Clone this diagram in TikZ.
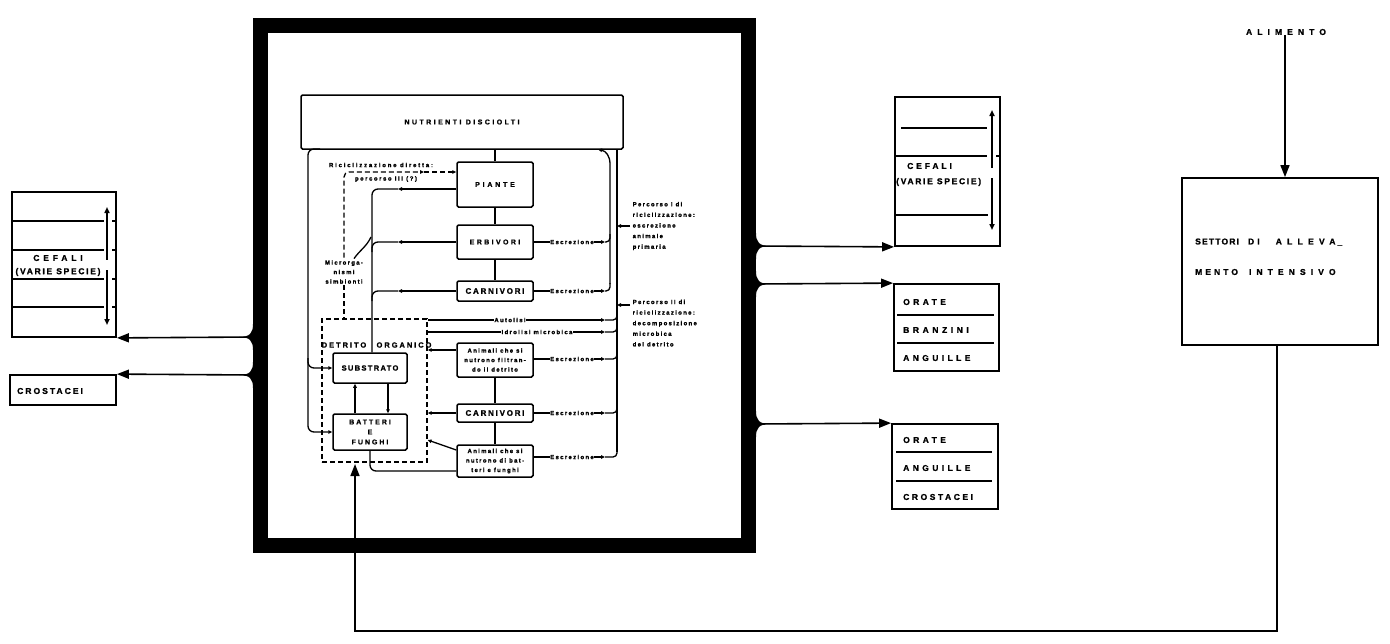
\documentclass[tikz,border=0pt]{standalone}
\usepackage{fontspec}
\setmainfont{Liberation Sans}[BoldFeatures={FakeBold=1.2}]
\usetikzlibrary{arrows.meta,calc}
\newcommand\LS[2]{{\addfontfeature{LetterSpace=#1}#2}}
\newcommand\bulgeL[1]{\fill[shift={(#1)}] (2,-13) -- (0,-13) .. controls (0,-4) and (-3,0) .. (-14,0) .. controls (-3,0) and (0,4) .. (0,13) -- (2,13) -- cycle;}
\newcommand\bulgeR[1]{\fill[shift={(#1)}] (-2,-13) -- (0,-13) .. controls (0,-4) and (3,0) .. (14,0) .. controls (3,0) and (0,4) .. (0,13) -- (-2,13) -- cycle;}
\begin{document}
\begin{tikzpicture}[x=1pt,y=-1pt,
  outl/.style={line width=1.6pt},
  inl/.style={line width=1.3pt},
  obox/.style={draw, line width=1.8pt, inner sep=0pt},
  ibox/.style={draw, line width=1.5pt, inner sep=0pt, rounded corners=1.5pt},
  big/.style={font=\fontsize{8.5}{10}\selectfont\bfseries, inner sep=0pt},
  mid/.style={font=\fontsize{7}{10}\selectfont\bfseries, inner sep=0pt},
  midb/.style={font=\fontsize{8}{10}\selectfont\bfseries, inner sep=0pt},
  tiny/.style={font=\fontsize{6}{9.5}\selectfont\bfseries\addfontfeature{LetterSpace=22}, inner sep=0.5pt, align=center},
  tinyl/.style={font=\fontsize{6}{10.6}\selectfont\bfseries\addfontfeature{LetterSpace=22}, inner sep=0.5pt, align=left},
  dsh/.style={dash pattern=on 5pt off 3pt},
  OA/.style={-{Triangle[length=12pt,width=9pt]}},
  SA/.style={-{Triangle[length=6pt,width=5pt]}},
  IA/.style={-{Triangle[length=4pt,width=3.5pt]}},
  ]
\useasboundingbox (0,0) rectangle (1390,643);

% ---------- big frame ----------
\node[draw, line width=15pt, minimum width=488pt, minimum height=519.5pt, inner sep=0pt] (frame) at (504.5,285.25) {};
\coordinate (jL1) at (253,337);
\coordinate (jL2) at (253,375);
\coordinate (jR1) at (756,246);
\coordinate (jR2) at (756,284);
\coordinate (jR3) at (756,424);
\bulgeL{jL1}\bulgeL{jL2}\bulgeR{jR1}\bulgeR{jR2}\bulgeR{jR3}

% ---------- left boxes ----------
\node[obox, minimum width=104pt, minimum height=145pt] (cefL) at (64,264.5) {};
\draw[outl] (12,221) -- (104,221) (12,250) -- (104,250) (12,279) -- (104,279) (12,307) -- (104,307);
\draw[outl] (112,221) -- (116,221) (112,250) -- (116,250) (112,279) -- (116,279) (112,307) -- (116,307);
\draw[outl, {Triangle[length=6pt,width=5pt]}-] (107,207) -- (107,260);
\draw[outl, SA] (107,270) -- (107,325);
\node[big] (tcefL) at (58,258) {\LS{45}{CEFALI}};
\node[big] (tvarL) at (58,272) {\LS{20}{(VARIE SPECIE)}};

\node[obox, minimum width=106pt, minimum height=30pt] (crost) at (63,390) {};
\node[big, anchor=west] (tcros) at (17,391) {\LS{24}{CROSTACEI}};

\draw[outl, OA] (jL1) -- (cefL.south east);
\draw[outl, OA] (jL2) -- (crost.north east);

% ---------- right boxes ----------
\node[obox, minimum width=105pt, minimum height=149pt] (cefR) at (947.5,171.5) {};
\draw[outl] (901,128) -- (987,128) (895,156) -- (987,156) (895,215) -- (988,215) (996,156) -- (1000,156);
\draw[outl, {Triangle[length=6pt,width=5pt]}-] (992,110) -- (992,168);
\draw[outl, SA] (992,178) -- (992,230);
\node[big, anchor=west] (tcefR) at (907,166) {\LS{34}{CEFALI}};
\node[big, anchor=west] (tvarR) at (896,182) {\LS{20}{(VARIE SPECIE)}};

\node[obox, minimum width=105pt, minimum height=87pt] (obr) at (946.5,327.5) {};
\draw[outl] (897,315) -- (994,315) (897,343) -- (994,343);
\node[big, anchor=west] (t1) at (903,302) {\LS{40}{ORATE}};
\node[big, anchor=west] (t2) at (903,330) {\LS{42}{BRANZINI}};
\node[big, anchor=west] (t3) at (903,358) {\LS{40}{ANGUILLE}};

\node[obox, minimum width=106pt, minimum height=85pt] (oac) at (945,466.5) {};
\draw[outl] (896,452) -- (992,452) (896,481) -- (992,481);
\node[big, anchor=west] (t4) at (903,440) {\LS{40}{ORATE}};
\node[big, anchor=west] (t5) at (903,468) {\LS{40}{ANGUILLE}};
\node[big, anchor=west] (t6) at (903,497) {\LS{30}{CROSTACEI}};

\draw[outl, OA] (jR1) -- (cefR.south west);
\draw[outl, OA] (jR2) -- (obr.north west);
\draw[outl, OA] (jR3) -- (oac.north west);

% ---------- far right ----------
\node[big] (alim) at (1286,32) {\LS{60}{ALIMENTO}};
\node[obox, minimum width=196pt, minimum height=167pt] (sett) at (1280,261.5) {};
\node[big, anchor=west] (s1) at (1195,242) {\LS{14}{SETTORI}\hspace{9pt}\LS{38}{DI}\hspace{16pt}\LS{62}{ALLEVA}\hspace{2pt}\_};
\node[big, anchor=west] (s2) at (1195,272) {\LS{36}{MENTO}\hspace{11pt}\LS{60}{INTENSIVO}};
\draw[outl, OA] (alim.south -| 1285,0) -- (sett.north -| 1285,0);
\coordinate (r0) at (1277,345);
\coordinate (r1) at (1277,631);
\coordinate (r2) at (355,631);
\coordinate (dtip) at (355,464);
\draw[outl, OA] (r0) -- (r1) -- (r2) -- (dtip);

% ---------- inner diagram ----------
\node[ibox, mid, minimum width=322pt, minimum height=54pt] (nut) at (462,122) {\LS{35}{NUTRIENTI DISCIOLTI}};
\node[ibox, mid, minimum width=76pt, minimum height=45pt] (pi) at (495,184.5) {\LS{40}{PIANTE}};
\node[ibox, mid, minimum width=76pt, minimum height=34pt] (er) at (495,242) {\LS{34}{ERBIVORI}};
\node[ibox, midb, minimum width=76pt, minimum height=20pt] (ca1) at (495,291) {\LS{22}{CARNIVORI}};
\node[ibox, tiny, minimum width=76pt, minimum height=34pt] (af) at (495,360) {Animali che si\\nutrono filtran-\\do il detrito};
\node[ibox, midb, minimum width=76pt, minimum height=18pt] (ca2) at (495,413) {\LS{22}{CARNIVORI}};
\node[ibox, tiny, minimum width=76pt, minimum height=32pt] (ab) at (495,461) {Animali che si\\nutrono di bat-\\teri e funghi};
\node[draw, inl, dsh, minimum width=105pt, minimum height=143pt, inner sep=0pt] (dbox) at (374.5,390.5) {};
\node[ibox, font=\fontsize{7.5}{10}\selectfont\bfseries, minimum width=74pt, minimum height=30pt] (sub) at (370,368) {\LS{18}{SUBSTRATO}};
\node[ibox, mid, align=center, minimum width=74pt, minimum height=36pt] (bat) at (370,432) {\LS{28}{BATTERI}\\\LS{28}{E}\\\LS{28}{FUNGHI}};
\node[font=\fontsize{7.5}{10}\selectfont\bfseries, inner sep=0pt] (det) at (344,345) {\LS{26}{DETRITO}};
\node[font=\fontsize{7.5}{10}\selectfont\bfseries, inner sep=0pt] (org) at (404,345) {\LS{26}{ORGANICO}};

% column links
\draw[inl] (pi.north) -- (pi.north |- nut.south);
\draw[inl] (pi.south) -- (er.north);
\draw[inl] (er.south) -- (ca1.north);
\draw[inl] (af.south) -- (ca2.north);
\draw[inl] (ca2.south) -- (ab.north);

% left feed line into substrato
\coordinate (fx) at (372,0);
\coordinate (ax) at (398,0);
\coordinate (pl) at ([yshift=-4.5pt]pi.west);
\draw[inl, IA] (pl) -- (pl -| ax);
\draw[inl, rounded corners=6pt] (pl -| ax) -- (pl -| fx) -- (sub.north -| fx);
\draw[inl, IA] (er.west) -- (er.west -| ax);
\draw[inl, rounded corners=6pt] (er.west -| ax) -| ++(-26,10);
\draw[inl, IA] (ca1.west) -- (ca1.west -| ax);
\draw[inl, rounded corners=6pt] (ca1.west -| ax) -| ++(-26,10);

% microrganismi simbionti
\node[tiny] (mic) at (344,272) {Microrga-\\nismi\\simbionti};
\coordinate (mj) at (371,237);
\draw[inl] ([xshift=10pt,yshift=1pt]mic.north) to[out=55,in=-115] (mj);

% dashed direct recycling
\coordinate (dk) at (344,172);
\coordinate (dm) at (424,172);
\draw[inl, dsh, rounded corners=5pt, IA] ([yshift=2pt]mic.north) -- (dk) -- (dm);
\draw[inl, dsh, IA] (dm) -- (dm -| pi.west);
\draw[inl, dsh] ([yshift=-1pt]mic.south) -- (mic.south |- dbox.north);
\node[font=\fontsize{6}{8}\selectfont\bfseries\addfontfeature{LetterSpace=30}, inner sep=0pt] (ric) at (381,165) {Riciclizzazione diretta:};
\node[font=\fontsize{6}{8}\selectfont\bfseries\addfontfeature{LetterSpace=26}, inner sep=0pt] (p3) at (386,179) {percorso III (?)};

% left main line
\coordinate (lt) at (320,149);
\coordinate (lx) at (308,0);
\draw[inl, rounded corners=6pt, IA] (lt) -- (lt -| lx) -- (bat.west -| lx) -- (bat.west);
\coordinate (sl) at ([yshift=10pt]sub.west -| lx);
\draw[inl, rounded corners=6pt, IA] (sl) |- (sub.west);

% substrato / batteri
\draw[inl, IA] ([xshift=-15pt]bat.north) -- ([xshift=-15pt]sub.south);
\draw[inl, IA] ([xshift=18pt]sub.south) -- ([xshift=18pt]bat.north);

% detritus inputs
\coordinate (afl) at ([yshift=10pt]af.west);
\draw[inl, IA] (afl) -- (afl -| dbox.east);
\draw[inl, IA] (ca2.west) -- (ca2.west -| dbox.east);
\coordinate (abl) at ([yshift=11pt]ab.west);
\coordinate (abt) at ([yshift=-49.5pt]dbox.east);
\draw[inl, IA] (abl) -- (abt);
\coordinate (abb) at ([yshift=-10pt]ab.west);
\draw[inl, rounded corners=6pt] (bat.south) |- (abb);

% right recycling lines
\coordinate (ix) at (610,0);
\coordinate (ox) at (617,0);
\coordinate (ea) at (605,0);
\coordinate (ib) at (610,284);
\coordinate (ic) at (610,164);
\coordinate (itop) at (598,149.5);
\draw[inl, IA] (ib) -- (ic) .. controls (610,156) and (606,151) .. (itop);
\coordinate (ob) at (617,452);
\draw[inl] (nut.south -| ox) -- (ob);

% excretions
\node[tiny] (ex1) at (572,242) {Escrezione};
\node[tiny] (ex2) at (572,291) {Escrezione};
\node[tiny] (ex3) at (572,359) {Escrezione};
\node[tiny] (ex4) at (572,413) {Escrezione};
\node[tiny] (ex5) at (572,457) {Escrezione};
\draw[inl] (er.east) -- (ex1.west);
\draw[inl] (ca1.east) -- (ex2.west);
\draw[inl] (ex3.west -| af.east) -- (ex3.west);
\draw[inl] (ca2.east) -- (ex4.west);
\draw[inl] (ex5.west -| ab.east) -- (ex5.west);
\foreach \e in {ex1,ex2}{
  \draw[inl, IA] (\e.east) -- (\e.east -| ea);
  \draw[inl, rounded corners=4pt] (\e.east -| ea) -| ++(5,-8);
}
\foreach \e in {ex3,ex4,ex5}{
  \draw[inl, IA] (\e.east) -- (\e.east -| ea);
  \draw[inl, rounded corners=4pt] (\e.east -| ea) -| ++(12,-8);
}

% autolisi / idrolisi
\node[tiny] (aut) at (510,320) {Autolisi};
\node[tiny] (idr) at (537,332) {Idrolisi microbica};
\foreach \e in {aut,idr}{
  \draw[inl] (\e.west -| dbox.east) -- (\e.west);
  \draw[inl, IA] (\e.east) -- (\e.east -| ea);
  \draw[inl, rounded corners=4pt] (\e.east -| ea) -| ++(12,-8);
}

% percorso labels
\node[tinyl, anchor=west] (p1) at (632,226) {Percorso I di\\riciclizzazione:\\escrezione\\animale\\primaria};
\draw[inl, IA] ([xshift=-2pt]p1.west) -- (p1.west -| ox);
\node[tinyl, anchor=north west] (p2) at (632,299) {Percorso II di\\riciclizzazione:\\decomposizione\\microbica\\del detrito};
\coordinate (p2a) at (630,305);
\draw[inl, IA] (p2a) -- (p2a -| ox);

\end{tikzpicture}
\end{document}
